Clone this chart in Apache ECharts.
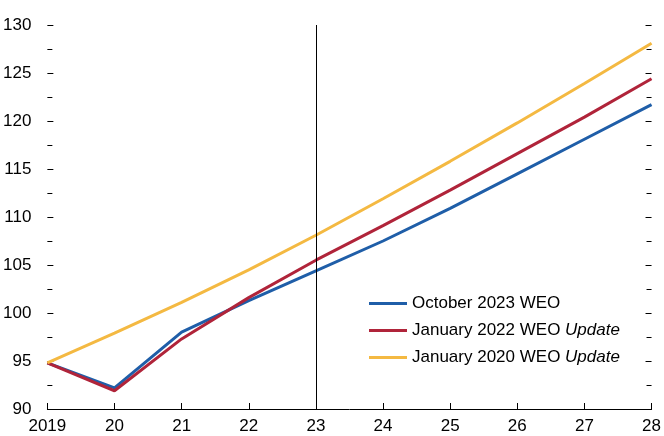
<!DOCTYPE html>
<html>
<head>
<meta charset="utf-8">
<script src="https://cdn.jsdelivr.net/npm/echarts@6/dist/echarts.min.js"></script>
<style>
html,body{margin:0;padding:0;background:#fff;}
#c{width:664px;height:436px;}
</style>
</head>
<body>
<div id="c"></div>
<script>
var categories = ['2019','20','21','22','23','24','25','26','27','28'];
var oct2023 = [94.8, 92.2, 98.0, 101.3, 104.4, 107.5, 110.9, 114.5, 118.1, 121.7];
var jan2022 = [94.8, 91.9, 97.3, 101.6, 105.5, 109.1, 112.8, 116.6, 120.4, 124.4];
var jan2020 = [94.8, 97.9, 101.1, 104.5, 108.1, 111.9, 115.8, 119.8, 123.9, 128.1];
var seriesNames = ['October 2023 WEO', 'January 2022 WEO Update', 'January 2020 WEO Update'];
var verticalLineAt = '23';

var FONT = "'Liberation Sans',Arial,sans-serif";
var FS = 17;
var chart = echarts.init(document.getElementById('c'));
function yAx(pos, showLabel) {
  return {
    type: 'value', position: pos, min: 90, max: 130, interval: 5,
    axisLine: { show: false },
    axisTick: { show: true, inside: true, length: 6, lineStyle: { color: '#000', width: 1 } },
    minorTick: { show: true, splitNumber: 2, length: 5, lineStyle: { color: '#000', width: 1 } },
    splitLine: { show: false },
    axisLabel: { show: showLabel, color: '#000', fontSize: FS, fontFamily: FONT, margin: 16 }
  };
}
chart.setOption({
  animation: false,
  textStyle: { fontFamily: FONT },
  grid: { left: 47, right: 11, top: 25, bottom: 27, containLabel: false },
  legend: {
    orient: 'vertical', left: 364, top: 290,
    icon: 'rect', itemWidth: 38, itemHeight: 3, itemGap: 10,
    textStyle: { color: '#000', fontSize: FS, fontFamily: FONT, lineHeight: 17,
      rich: { i: { fontStyle: 'italic', fontSize: FS, fontFamily: FONT, color: '#000' } } },
    formatter: function (n) { return n.replace(' Update', ' {i|Update}'); },
    data: seriesNames
  },
  xAxis: {
    type: 'category', data: categories, boundaryGap: false,
    axisLine: { lineStyle: { color: '#000', width: 1 } },
    axisTick: { inside: true, length: 6, lineStyle: { color: '#000' } },
    axisLabel: { color: '#000', fontSize: FS, fontFamily: FONT, margin: 9 }
  },
  yAxis: [yAx('left', true), yAx('right', false)],
  series: [
    { name: seriesNames[0], type: 'line', data: oct2023, symbol: 'none',
      lineStyle: { color: '#1f5ea8', width: 3 }, itemStyle: { color: '#1f5ea8' },
      markLine: { silent: true, symbol: 'none', label: { show: false },
        lineStyle: { color: '#000', width: 1, type: 'solid' },
        data: [{ xAxis: verticalLineAt }] } },
    { name: seriesNames[1], type: 'line', data: jan2022, symbol: 'none',
      lineStyle: { color: '#b0243a', width: 3 }, itemStyle: { color: '#b0243a' } },
    { name: seriesNames[2], type: 'line', data: jan2020, symbol: 'none',
      lineStyle: { color: '#f4b942', width: 3 }, itemStyle: { color: '#f4b942' } }
  ]
});
</script>
</body>
</html>
